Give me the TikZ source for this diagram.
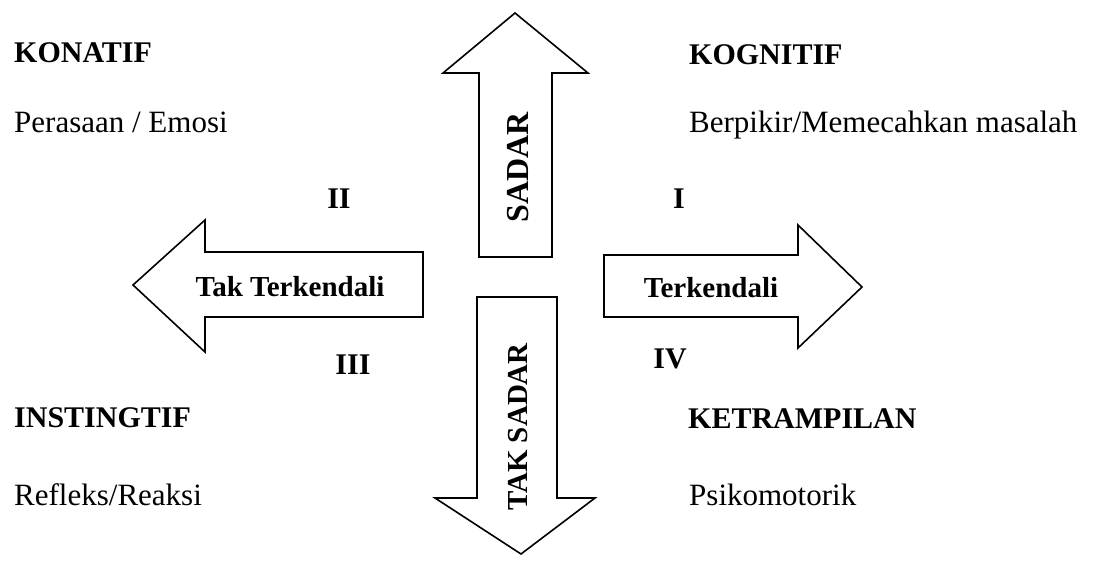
\documentclass[tikz,border=0pt]{standalone}
\usepackage{fontspec}
\setmainfont{Liberation Serif}
\usetikzlibrary{positioning}
\tikzset{
  blockarrow/.style={draw=black, fill=white, line width=1.6pt, line join=miter},
  quadrant/.style={font=\fontsize{30}{36}\selectfont\bfseries, anchor=base west, inner sep=0pt},
  detail/.style={font=\fontsize{31}{36}\selectfont, anchor=base west, inner sep=0pt},
  numeral/.style={font=\fontsize{30}{36}\selectfont\bfseries, inner sep=0pt},
  inarrow/.style={font=\fontsize{29}{34}\selectfont\bfseries, inner sep=0pt}
}

\begin{document}
\begin{tikzpicture}[x=1pt, y=-1pt]
    \useasboundingbox (0,0) rectangle (1100,563);
    % the four block arrows
    \draw[blockarrow] (479,257) -- (479,73) -- (443,73) -- (515,13) -- (588,73) -- (552,73) -- (552,257) -- cycle;
    \draw[blockarrow] (477,297) -- (557,297) -- (557,498) -- (595,498) -- (521,554) -- (435,498) -- (477,498) -- cycle;
    \draw[blockarrow] (423,252) -- (205,252) -- (205,220) -- (133,285) -- (205,352) -- (205,317) -- (423,317) -- cycle;
    \draw[blockarrow] (604,255) -- (798,255) -- (798,225) -- (862,287) -- (798,348) -- (798,317) -- (604,317) -- cycle;
    % labels inside the arrows
    \node[inarrow, rotate=90, font=\fontsize{32}{36}\selectfont\bfseries] (sadar) at (518,167) {SADAR};
    \node[inarrow, rotate=90] (takSadar) at (518,427) {TAK SADAR};
    \node[inarrow] (takTerkendali) at (290,287) {Tak Terkendali};
    \node[inarrow] (terkendali) at (711,288) {Terkendali};
    % quadrant numbers
    \node[numeral] (numI)   at (679,199) {I};
    \node[numeral] (numII)  at (339,199) {II};
    \node[numeral] (numIII) at (353,365) {III};
    \node[numeral] (numIV)  at (670,359) {IV};
    % quadrant titles and descriptions
    \node[quadrant] (konatif)     at (14,62)   {KONATIF};
    \node[detail]   (perasaan)    at (14,132)  {Perasaan / Emosi};
    \node[quadrant] (kognitif)    at (689,64)  {KOGNITIF};
    \node[detail]   (berpikir)    at (689,132) {Berpikir/Memecahkan masalah};
    \node[quadrant] (instingtif)  at (14,427)  {INSTINGTIF};
    \node[detail]   (refleks)     at (14,505)  {Refleks/Reaksi};
    \node[quadrant] (ketrampilan) at (688,428) {KETRAMPILAN};
    \node[detail]   (psikomotor)  at (689,505) {Psikomotorik};
\end{tikzpicture}
\end{document}
